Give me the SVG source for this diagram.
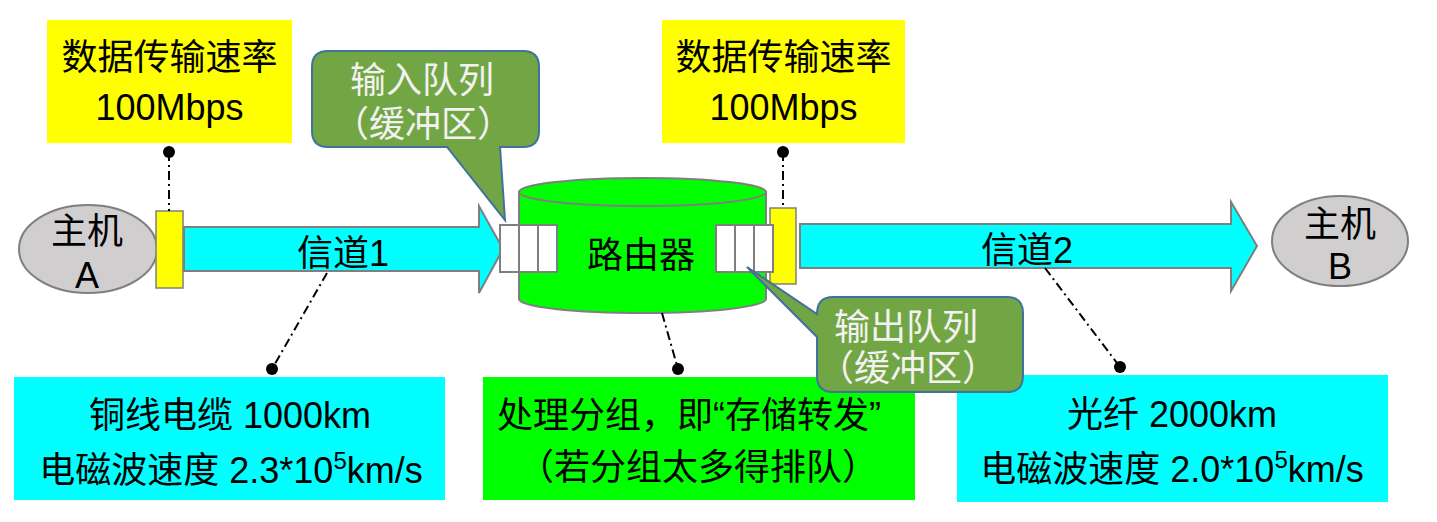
<svg xmlns="http://www.w3.org/2000/svg" width="1437" height="522" viewBox="0 0 1437 522">
<style>
text{font-family:"Liberation Sans","Noto Sans CJK SC",sans-serif;font-size:36px;fill:#000;text-anchor:middle}
.yel{fill:#FFFF00}
.cyanbox{fill:#00FFFF}
.greenbox{fill:#00FF00}
.port{fill:#FFFF00;stroke:#7F7F7F;stroke-width:1.5}
.host{fill:#D0CECE;stroke:#7F7F7F;stroke-width:2}
.arrow{fill:#00FFFF;stroke:#7F7F7F;stroke-width:2}
.cyl{fill:#00FF00;stroke:#7F7F7F;stroke-width:2}
.cell{fill:#FFFFFF;stroke:#7F7F7F;stroke-width:2}
.callout{fill:#72A645;stroke:#41719C;stroke-width:2}
.callout-t{fill:#F2F2F2}
.lead{stroke:#000;stroke-width:2;fill:none;stroke-dasharray:9 4 2 4}
.dot{fill:#000}
</style>
<rect width="1437" height="522" fill="#FFFFFF"/>

<g id="rate1">
<rect class="yel" x="47" y="20" width="245" height="123"/>
<text x="169.5" y="70">数据传输速率</text>
<text x="169.5" y="120">100Mbps</text>
</g>
<g id="rate2">
<rect class="yel" x="662" y="20" width="243" height="123"/>
<text x="783.5" y="70">数据传输速率</text>
<text x="783.5" y="120">100Mbps</text>
</g>

<g id="hostA">
<ellipse class="host" cx="88" cy="249" rx="69" ry="44"/>
<text x="87" y="244">主机</text>
<text x="87" y="288">A</text>
</g>
<g id="portA">
<rect class="port" x="156" y="211" width="27" height="77"/>
</g>

<g id="channel1">
<path class="arrow" d="M184,227 H479 V206 L503,249 L479,293 V271 H184 Z"/>
<text x="343" y="266">信道1</text>
</g>

<g id="router">
<path class="cyl" d="M519,192 V299 A123.5,14 0 0 0 766,299 V192 Z"/>
<ellipse class="cyl" cx="642.5" cy="192" rx="123.5" ry="14"/>
<text x="641" y="268">路由器</text>
</g>

<g id="portB">
<rect class="port" x="770" y="208" width="26" height="76"/>
</g>

<g id="inqueue">
<rect class="cell" x="500" y="225" width="19" height="47"/>
<rect class="cell" x="519" y="225" width="19" height="47"/>
<rect class="cell" x="538" y="225" width="19" height="47"/>
</g>
<g id="outqueue">
<rect class="cell" x="716" y="225" width="19" height="47"/>
<rect class="cell" x="735" y="225" width="19" height="47"/>
<rect class="cell" x="754" y="225" width="19" height="47"/>
</g>

<g id="channel2">
<path class="arrow" d="M800,224 H1231 V202 L1257,246 L1231,291 V268 H800 Z"/>
<text x="1027" y="263">信道2</text>
</g>

<g id="hostB">
<ellipse class="host" cx="1340" cy="241" rx="68" ry="45"/>
<text x="1340" y="237">主机</text>
<text x="1340" y="279">B</text>
</g>

<g id="incallout">
<path class="callout" d="M328,51 H523 Q539,51 539,67 V131 Q539,147 523,147 H500 L505,220 L447,147 H328 Q312,147 312,131 V67 Q312,51 328,51 Z"/>
<text class="callout-t" x="422" y="93">输入队列</text>
<text class="callout-t" x="423" y="137">（缓冲区）</text>
</g>

<g id="copper">
<rect class="cyanbox" x="14" y="377" width="431" height="123"/>
<text x="230" y="428">铜线电缆 1000km</text>
<text x="231" y="483">电磁波速度 2.3*10<tspan font-size="24" dy="-14">5</tspan><tspan dy="14">km/s</tspan></text>
</g>

<g id="process">
<rect class="greenbox" x="483" y="377" width="432" height="123"/>
<text x="689" y="428">处理分组，即“存储转发”</text>
<text x="698" y="480">（若分组太多得排队）</text>
</g>

<g id="fiber">
<rect class="cyanbox" x="957" y="375" width="431" height="127"/>
<text x="1172" y="427">光纤 2000km</text>
<text x="1172" y="482">电磁波速度 2.0*10<tspan font-size="24" dy="-14">5</tspan><tspan dy="14">km/s</tspan></text>
</g>

<g id="outcallout">
<path class="callout" d="M833,297 H1007 Q1023,297 1023,313 V376 Q1023,392 1007,392 H833 Q817,392 817,376 V337 L747,267 L817,314 Q817,297 833,297 Z"/>
<text class="callout-t" x="906" y="340">输出队列</text>
<text class="callout-t" x="908" y="381">（缓冲区）</text>
</g>

<g id="connectors">
<line class="lead" x1="169" y1="152" x2="169" y2="211"/>
<circle class="dot" cx="169" cy="152" r="6"/>
<line class="lead" x1="783" y1="152" x2="783" y2="208"/>
<circle class="dot" cx="783" cy="152" r="6"/>
<line class="lead" x1="327" y1="273" x2="272" y2="369"/>
<circle class="dot" cx="272" cy="369" r="6"/>
<line class="lead" x1="662" y1="313" x2="678" y2="369"/>
<circle class="dot" cx="678" cy="369" r="6"/>
<line class="lead" x1="1045" y1="268" x2="1120" y2="367"/>
<circle class="dot" cx="1120" cy="367" r="6"/>
</g>
</svg>
